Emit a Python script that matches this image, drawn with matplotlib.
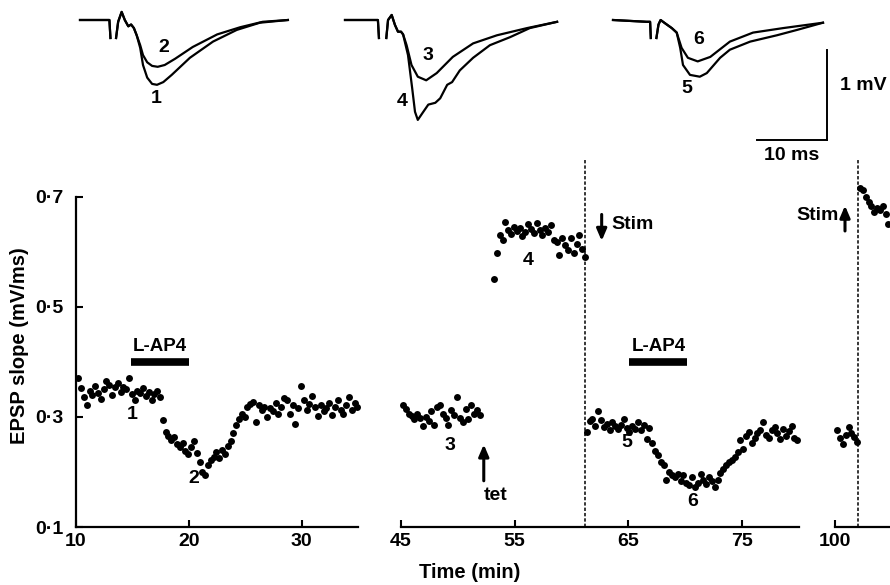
import numpy as np
import matplotlib
matplotlib.use("Agg")
import matplotlib.pyplot as plt

# ---------------- data ----------------
STEP = 0.25  # sampling interval (min)

# segment 1 (10-35 min)
SEG1_START = 10.2
SEG1_VALUES = [
    0.370, 0.352, 0.336, 0.322, 0.348, 0.340, 0.356, 0.344,
    0.332, 0.350, 0.366, 0.358, 0.340, 0.354, 0.362, 0.346,
    0.355, 0.350, 0.370, 0.342, 0.330, 0.348, 0.344, 0.352,
    0.338, 0.346, 0.330, 0.342, 0.348, 0.336, 0.294, 0.272,
    0.266, 0.258, 0.264, 0.250, 0.246, 0.252, 0.238, 0.232,
    0.245, 0.256, 0.235, 0.218, 0.200, 0.194, 0.212, 0.222,
    0.228, 0.236, 0.226, 0.240, 0.232, 0.248, 0.256, 0.270,
    0.285, 0.296, 0.306, 0.300, 0.318, 0.324, 0.328, 0.290,
    0.322, 0.312, 0.318, 0.300, 0.316, 0.310, 0.326, 0.306,
    0.318, 0.335, 0.330, 0.306, 0.322, 0.288, 0.316, 0.356,
    0.330, 0.312, 0.324, 0.338, 0.318, 0.302, 0.322, 0.310,
    0.316, 0.326, 0.304, 0.318, 0.330, 0.312, 0.306, 0.322,
    0.336, 0.312, 0.326, 0.318,
]

# segment 2a (before tetanus)
SEG2A_START = 45.2
SEG2A_VALUES = [
    0.322, 0.314, 0.306, 0.302, 0.296, 0.305, 0.298, 0.284,
    0.300, 0.292, 0.310, 0.286, 0.318, 0.322, 0.305, 0.298,
    0.286, 0.312, 0.303, 0.336, 0.298, 0.290, 0.314, 0.296,
    0.322, 0.306, 0.312, 0.304,
]

# segment 2b (after tetanus)
SEG2B_START = 53.2
SEG2B_VALUES = [
    0.551, 0.598, 0.630, 0.622, 0.655, 0.640, 0.632, 0.646,
    0.638, 0.644, 0.628, 0.636, 0.650, 0.642, 0.634, 0.653,
    0.640, 0.630, 0.644, 0.636, 0.648, 0.622, 0.618, 0.595,
    0.626, 0.612, 0.604, 0.625, 0.598, 0.614, 0.631, 0.606,
    0.590,
]

# segment 2c (after stimulus switch)
SEG2C_START = 61.35
SEG2C_VALUES = [
    0.272, 0.292, 0.296, 0.284, 0.310, 0.294, 0.282, 0.288,
    0.276, 0.290, 0.283, 0.278, 0.286, 0.296, 0.280, 0.272,
    0.284, 0.278, 0.290, 0.276, 0.286, 0.260, 0.280, 0.252,
    0.238, 0.230, 0.218, 0.212, 0.186, 0.200, 0.194, 0.190,
    0.196, 0.184, 0.194, 0.180, 0.176, 0.190, 0.172, 0.180,
    0.196, 0.186, 0.178, 0.190, 0.184, 0.172, 0.186, 0.198,
    0.206, 0.212, 0.218, 0.222, 0.228, 0.236, 0.258, 0.242,
    0.266, 0.272, 0.252, 0.262, 0.270, 0.276, 0.290, 0.268,
    0.262, 0.276, 0.282, 0.270, 0.260, 0.278, 0.266, 0.274,
    0.284, 0.262, 0.258,
]

# segment 3
SEG3A_START = 100.2
SEG3A_VALUES = [0.276, 0.262, 0.250, 0.268, 0.282, 0.270, 0.264, 0.255]
SEG3B_START = 102.2
SEG3B_VALUES = [0.716, 0.712, 0.700, 0.690, 0.684, 0.672, 0.680, 0.676,
                0.684, 0.668, 0.650]

STIM_SWITCH = [61.2, 102.0]
LAP4 = [(14.9, 20.0), (65.1, 70.2)]
TET_TIME = 52.3

# EPSP traces (time ms, voltage mV)
T1_t = [0, 4.2, 4.35, np.nan, 5.15, 5.45, 5.95, 6.4, 6.9, 7.3, 7.7, 8.1,
        8.6, 9.0, 9.6, 10.3, 11.0, 11.9, 13.1, 15.7, 19.0, 22.4, 25.7, 29.7]
T1_v = [0, 0, -0.2, np.nan, -0.2, -0.02, 0.09, 0.0, -0.07, -0.05, -0.09, -0.17,
        -0.31, -0.50, -0.64, -0.71, -0.72, -0.69, -0.61, -0.42, -0.24, -0.11, -0.03, 0.0]
T2_t = [0, 4.2, 4.35, np.nan, 5.15, 5.45, 5.95, 6.4, 6.9, 7.3, 7.7, 8.1,
        8.6, 9.0, 9.6, 10.3, 11.1, 12.1, 13.6, 16.1, 19.6, 22.9, 26.1, 29.7]
T2_v = [0, 0, -0.2, np.nan, -0.2, -0.02, 0.09, 0.0, -0.07, -0.05, -0.09, -0.17,
        -0.28, -0.39, -0.47, -0.51, -0.52, -0.50, -0.43, -0.30, -0.16, -0.08, -0.02, 0.0]
T3_t = [0, 4.7, 4.85, np.nan, 5.9, 6.15, 6.67, 7.14, 7.57, 8.0, 8.3,
        8.8, 9.5, 10.4, 11.6, 13.1, 15.4, 18.3, 21.7, 26.0, 30.3]
T3_v = [0, 0, -0.2, np.nan, -0.2, 0.0, 0.056, -0.056, -0.13, -0.13, -0.16,
        -0.28, -0.50, -0.63, -0.67, -0.59, -0.41, -0.26, -0.17, -0.09, -0.02]
T4_t = [0, 4.7, 4.85, np.nan, 5.9, 6.15, 6.67, 7.14, 7.57, 8.0, 8.3,
        9.0, 9.6, 10.0, 10.4, 11.1, 11.9, 12.9, 13.6, 14.6, 15.3, 16.4, 18.3,
        20.7, 23.6, 26.4, 30.3]
T4_v = [0, 0, -0.2, np.nan, -0.2, 0.0, 0.056, -0.056, -0.13, -0.13, -0.16,
        -0.39, -0.76, -1.02, -1.11, -1.03, -0.94, -0.92, -0.87, -0.72, -0.69, -0.56, -0.42,
        -0.28, -0.19, -0.09, -0.02]
T5_t = [0, 4.8, 5.3, 5.4, np.nan, 6.2, 6.5, 6.8, 7.5, 8.4, 9.1,
        9.6, 10.0, 11.0, 12.4, 13.4, 15.3, 16.7, 19.6, 23.4, 26.3, 30.0]
T5_v = [0, -0.02, -0.02, -0.2, np.nan, -0.2, -0.05, 0.0, -0.04, -0.09, -0.14,
        -0.31, -0.50, -0.61, -0.63, -0.59, -0.42, -0.33, -0.24, -0.17, -0.11, -0.03]
T6_t = [0, 4.8, 5.3, 5.4, np.nan, 6.2, 6.5, 6.8, 7.5, 8.4, 9.1,
        9.8, 10.7, 12.1, 13.9, 16.7, 20.0, 24.3, 30.0]
T6_v = [0, -0.02, -0.02, -0.2, np.nan, -0.2, -0.05, 0.0, -0.04, -0.09, -0.14,
        -0.31, -0.42, -0.46, -0.41, -0.24, -0.14, -0.09, -0.03]

SCALE_MV = 1.0
SCALE_MS = 10.0

# ---------------- figure ----------------
plt.rcParams['font.family'] = ['Liberation Sans', 'DejaVu Sans']
plt.rcParams['font.weight'] = 'bold'
FS = 14
FS_AX = 14.5
FS_SM = 13.5

W, H = 890, 585
fig = plt.figure(figsize=(W / 100, H / 100), dpi=100)


def px_axes(left, top, right, bottom):
    return fig.add_axes([left / W, 1 - bottom / H, (right - left) / W, (bottom - top) / H])


def times(start, vals):
    return start + STEP * np.arange(len(vals))


YMIN, YMAX = 0.1, 0.767
ax1 = px_axes(76, 160, 358, 527)
ax2 = px_axes(400.7, 160, 799, 527)
ax3 = px_axes(835, 160, 890, 527)
ax1.set_xlim(10, 35)
ax2.set_xlim(45, 80)
ax3.set_xlim(100, 104.84)

for ax in (ax1, ax2, ax3):
    ax.set_ylim(YMIN, YMAX)
    ax.patch.set_alpha(0)
    for s in ('top', 'right'):
        ax.spines[s].set_visible(False)
    ax.spines['bottom'].set_linewidth(1.6)
    ax.tick_params(axis='x', direction='in', length=5, width=1.5, pad=4, labelsize=FS)
for ax in (ax2, ax3):
    ax.spines['left'].set_visible(False)
    ax.set_yticks([])
ax1.spines['left'].set_linewidth(1.6)
ax1.spines['left'].set_bounds(0.1, 0.7)
ax1.set_yticks([0.1, 0.3, 0.5, 0.7])
ax1.set_yticklabels(['0·1', '0·3', '0·5', '0·7'])
ax1.tick_params(axis='y', direction='in', length=5, width=1.5, pad=9, labelsize=FS)
ax1.set_xticks([10, 20, 30])
ax2.set_xticks([45, 55, 65, 75])
ax3.set_xticks([100])
for ax in (ax1, ax2, ax3):
    for lab in ax.get_xticklabels() + ax.get_yticklabels():
        lab.set_fontweight('bold')

dot = dict(ls='none', marker='o', ms=5.0, mew=0, color='black', clip_on=False)
ax1.plot(times(SEG1_START, SEG1_VALUES), SEG1_VALUES, **dot)
ax2.plot(times(SEG2A_START, SEG2A_VALUES), SEG2A_VALUES, **dot)
ax2.plot(times(SEG2B_START, SEG2B_VALUES), SEG2B_VALUES, **dot)
ax2.plot(times(SEG2C_START, SEG2C_VALUES), SEG2C_VALUES, **dot)
ax3.plot(times(SEG3A_START, SEG3A_VALUES), SEG3A_VALUES, **dot)
d3 = dict(dot); d3['clip_on'] = True
ax3.plot(times(SEG3B_START, SEG3B_VALUES), SEG3B_VALUES, **d3)

# stimulus switch dashed lines
ax2.axvline(STIM_SWITCH[0], color='black', lw=1.1, ls=(0, (2.2, 1.3)))
ax3.axvline(STIM_SWITCH[1], color='black', lw=1.1, ls=(0, (2.2, 1.3)))

# L-AP4 bars
for ax, (a, b) in zip((ax1, ax2), LAP4):
    ax.plot([a, b], [0.40, 0.40], color='black', lw=5.5, solid_capstyle='butt')
    ax.text((a + b) / 2, 0.428, 'L-AP4', ha='center', va='center', fontsize=FS_SM,
            fontweight='bold')

txt = dict(ha='center', va='center', fontsize=FS, fontweight='bold')
ax1.text(14.95, 0.304, '1', **txt)
ax1.text(20.4, 0.189, '2', **txt)
ax2.text(49.34, 0.249, '3', **txt)
ax2.text(56.2, 0.584, '4', **txt)
ax2.text(64.9, 0.253, '5', **txt)
ax2.text(70.7, 0.146, '6', **txt)

arrow = dict(arrowstyle='-|>,head_length=0.7,head_width=0.3', lw=2.2, color='black',
             shrinkA=0, shrinkB=0)
ax2.annotate('', xy=(TET_TIME, 0.250), xytext=(TET_TIME, 0.184), arrowprops=arrow)
ax2.text(53.3, 0.158, 'tet', **txt)
ax2.annotate('', xy=(62.66, 0.620), xytext=(62.66, 0.668), arrowprops=arrow)
ax2.text(63.5, 0.649, 'Stim', ha='left', va='center', fontsize=FS, fontweight='bold')
ax3.annotate('', xy=(100.88, 0.684), xytext=(100.88, 0.638), arrowprops=arrow,
             annotation_clip=False)
ax3.text(100.3, 0.667, 'Stim', ha='right', va='center', fontsize=FS, fontweight='bold',
         clip_on=False)

fig.text(470 / W, 1 - 572 / H, 'Time (min)', ha='center', va='center', fontsize=FS_AX,
         fontweight='bold')
fig.text(20 / W, 1 - 346 / H, 'EPSP slope (mV/ms)', ha='center', va='center',
         rotation=90, fontsize=FS_AX, fontweight='bold')

# ---------------- traces ----------------
PXMS, PXMV = 7.0, 90.0


def trace_axes(left_px, base_px=20):
    top, bottom = 5, 150
    right = left_px + 31 * PXMS
    ax = px_axes(left_px, top, right, bottom)
    ax.set_xlim(0, 31)
    ax.set_ylim(-(bottom - base_px) / PXMV, (base_px - top) / PXMV)
    ax.axis('off')
    return ax


tr = dict(color='black', lw=1.6, clip_on=False, solid_joinstyle='round')
ta = trace_axes(80)
ta.plot(T1_t, T1_v, **tr)
ta.plot(T2_t, T2_v, **tr)
ta.text(11.9, -0.30, '2', **txt)
ta.text(10.86, -0.87, '1', **txt)

tb = trace_axes(345)
tb.plot(T3_t, T3_v, **tr)
tb.plot(T4_t, T4_v, **tr)
tb.text(11.9, -0.39, '3', **txt)
tb.text(8.1, -0.91, '4', **txt)

tc = trace_axes(613)
tc.plot(T5_t, T5_v, **tr)
tc.plot(T6_t, T6_v, **tr)
tc.text(12.3, -0.22, '6', **txt)
tc.text(10.5, -0.76, '5', **txt)

# scale bar
sx, sy = 30.57, -1.333
tc.plot([sx, sx], [sy, sy + SCALE_MV], color='black', lw=1.4, clip_on=False)
tc.plot([sx - SCALE_MS, sx], [sy, sy], color='black', lw=1.4, clip_on=False)
tc.text(sx + 1.8, sy + SCALE_MV * 0.61, '1 mV', ha='left', va='center', fontsize=FS,
        fontweight='bold', clip_on=False)
tc.text(sx - SCALE_MS / 2, sy - 0.17, '10 ms', ha='center', va='center', fontsize=FS,
        fontweight='bold', clip_on=False)

fig.savefig('out.png', dpi=100)
